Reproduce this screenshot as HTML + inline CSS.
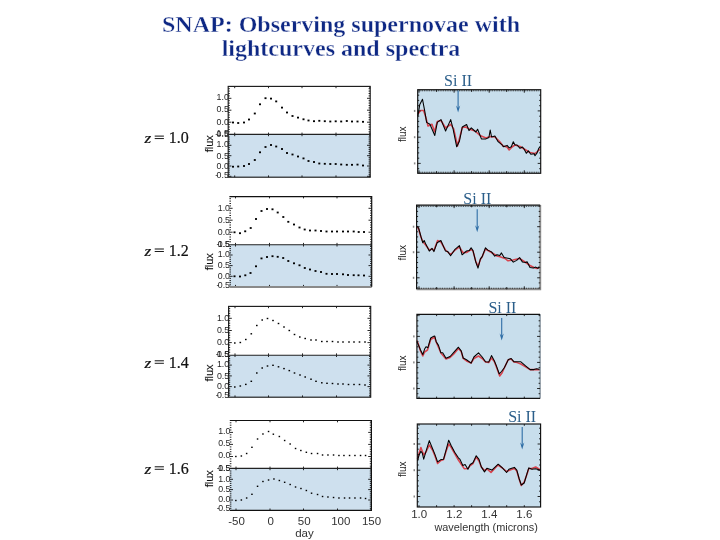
<!DOCTYPE html>
<html><head><meta charset="utf-8">
<style>
html,body{margin:0;padding:0;background:#fff;width:720px;height:540px;overflow:hidden}
#t{position:absolute;left:0;top:0;width:720px;text-align:center;font-family:"Liberation Serif",serif;font-weight:bold;color:#0e2884;font-size:24px;line-height:23.6px}
svg{position:absolute;left:0;top:0;will-change:transform}
#t{will-change:transform;-webkit-text-stroke:0.35px #fff}
svg line{stroke:#111;stroke-width:0.9}
.tl{font-family:"Liberation Sans",sans-serif;font-size:8.8px;fill:#262626;text-anchor:end}
.zl{font-family:"Liberation Serif",serif;font-size:16.5px;fill:#111;stroke:#111;stroke-width:0.2px}
.fl{font-family:"Liberation Sans",sans-serif;font-size:11px;fill:#111;stroke:#111;stroke-width:0.15px;text-anchor:middle}
.fr{font-family:"Liberation Sans",sans-serif;font-size:10px;fill:#222;text-anchor:middle}
.si{font-family:"Liberation Serif",serif;font-size:16px;fill:#2b5e8a}
.ax{font-family:"Liberation Sans",sans-serif;font-size:11.5px;fill:#333}
</style></head><body>
<div id="t" style="top:12.5px;left:-19.5px">SNAP: Observing supernovae with<br>lightcurves and spectra</div>
<svg width="720" height="540" viewBox="0 0 720 540">
<rect x="228.2" y="134.4" width="142.0" height="42.8" fill="#cee0ee"/>
<line x1="228.2" y1="131.8" x2="229.8" y2="131.8"/>
<line x1="370.2" y1="131.8" x2="368.6" y2="131.8"/>
<line x1="228.2" y1="129.4" x2="229.8" y2="129.4"/>
<line x1="370.2" y1="129.4" x2="368.6" y2="129.4"/>
<line x1="228.2" y1="127.0" x2="229.8" y2="127.0"/>
<line x1="370.2" y1="127.0" x2="368.6" y2="127.0"/>
<line x1="228.2" y1="124.6" x2="229.8" y2="124.6"/>
<line x1="370.2" y1="124.6" x2="368.6" y2="124.6"/>
<line x1="228.2" y1="122.2" x2="231.4" y2="122.2"/>
<line x1="370.2" y1="122.2" x2="367.0" y2="122.2"/>
<line x1="228.2" y1="119.8" x2="229.8" y2="119.8"/>
<line x1="370.2" y1="119.8" x2="368.6" y2="119.8"/>
<line x1="228.2" y1="117.4" x2="229.8" y2="117.4"/>
<line x1="370.2" y1="117.4" x2="368.6" y2="117.4"/>
<line x1="228.2" y1="115.0" x2="229.8" y2="115.0"/>
<line x1="370.2" y1="115.0" x2="368.6" y2="115.0"/>
<line x1="228.2" y1="112.6" x2="229.8" y2="112.6"/>
<line x1="370.2" y1="112.6" x2="368.6" y2="112.6"/>
<line x1="228.2" y1="110.2" x2="231.4" y2="110.2"/>
<line x1="370.2" y1="110.2" x2="367.0" y2="110.2"/>
<line x1="228.2" y1="107.9" x2="229.8" y2="107.9"/>
<line x1="370.2" y1="107.9" x2="368.6" y2="107.9"/>
<line x1="228.2" y1="105.5" x2="229.8" y2="105.5"/>
<line x1="370.2" y1="105.5" x2="368.6" y2="105.5"/>
<line x1="228.2" y1="103.1" x2="229.8" y2="103.1"/>
<line x1="370.2" y1="103.1" x2="368.6" y2="103.1"/>
<line x1="228.2" y1="100.7" x2="229.8" y2="100.7"/>
<line x1="370.2" y1="100.7" x2="368.6" y2="100.7"/>
<line x1="228.2" y1="98.3" x2="231.4" y2="98.3"/>
<line x1="370.2" y1="98.3" x2="367.0" y2="98.3"/>
<line x1="228.2" y1="95.9" x2="229.8" y2="95.9"/>
<line x1="370.2" y1="95.9" x2="368.6" y2="95.9"/>
<line x1="228.2" y1="93.5" x2="229.8" y2="93.5"/>
<line x1="370.2" y1="93.5" x2="368.6" y2="93.5"/>
<line x1="228.2" y1="91.1" x2="229.8" y2="91.1"/>
<line x1="370.2" y1="91.1" x2="368.6" y2="91.1"/>
<line x1="228.2" y1="88.7" x2="229.8" y2="88.7"/>
<line x1="370.2" y1="88.7" x2="368.6" y2="88.7"/>
<line x1="228.2" y1="176.3" x2="231.4" y2="176.3"/>
<line x1="370.2" y1="176.3" x2="367.0" y2="176.3"/>
<line x1="228.2" y1="174.3" x2="229.8" y2="174.3"/>
<line x1="370.2" y1="174.3" x2="368.6" y2="174.3"/>
<line x1="228.2" y1="172.2" x2="229.8" y2="172.2"/>
<line x1="370.2" y1="172.2" x2="368.6" y2="172.2"/>
<line x1="228.2" y1="170.1" x2="229.8" y2="170.1"/>
<line x1="370.2" y1="170.1" x2="368.6" y2="170.1"/>
<line x1="228.2" y1="168.1" x2="229.8" y2="168.1"/>
<line x1="370.2" y1="168.1" x2="368.6" y2="168.1"/>
<line x1="228.2" y1="166.0" x2="231.4" y2="166.0"/>
<line x1="370.2" y1="166.0" x2="367.0" y2="166.0"/>
<line x1="228.2" y1="163.9" x2="229.8" y2="163.9"/>
<line x1="370.2" y1="163.9" x2="368.6" y2="163.9"/>
<line x1="228.2" y1="161.9" x2="229.8" y2="161.9"/>
<line x1="370.2" y1="161.9" x2="368.6" y2="161.9"/>
<line x1="228.2" y1="159.8" x2="229.8" y2="159.8"/>
<line x1="370.2" y1="159.8" x2="368.6" y2="159.8"/>
<line x1="228.2" y1="157.7" x2="229.8" y2="157.7"/>
<line x1="370.2" y1="157.7" x2="368.6" y2="157.7"/>
<line x1="228.2" y1="155.7" x2="231.4" y2="155.7"/>
<line x1="370.2" y1="155.7" x2="367.0" y2="155.7"/>
<line x1="228.2" y1="153.6" x2="229.8" y2="153.6"/>
<line x1="370.2" y1="153.6" x2="368.6" y2="153.6"/>
<line x1="228.2" y1="151.5" x2="229.8" y2="151.5"/>
<line x1="370.2" y1="151.5" x2="368.6" y2="151.5"/>
<line x1="228.2" y1="149.4" x2="229.8" y2="149.4"/>
<line x1="370.2" y1="149.4" x2="368.6" y2="149.4"/>
<line x1="228.2" y1="147.4" x2="229.8" y2="147.4"/>
<line x1="370.2" y1="147.4" x2="368.6" y2="147.4"/>
<line x1="228.2" y1="145.3" x2="231.4" y2="145.3"/>
<line x1="370.2" y1="145.3" x2="367.0" y2="145.3"/>
<line x1="228.2" y1="143.2" x2="229.8" y2="143.2"/>
<line x1="370.2" y1="143.2" x2="368.6" y2="143.2"/>
<line x1="228.2" y1="141.2" x2="229.8" y2="141.2"/>
<line x1="370.2" y1="141.2" x2="368.6" y2="141.2"/>
<line x1="228.2" y1="139.1" x2="229.8" y2="139.1"/>
<line x1="370.2" y1="139.1" x2="368.6" y2="139.1"/>
<line x1="228.2" y1="137.0" x2="229.8" y2="137.0"/>
<line x1="370.2" y1="137.0" x2="368.6" y2="137.0"/>
<line x1="234.7" y1="86.4" x2="234.7" y2="88.2"/>
<line x1="234.7" y1="134.4" x2="234.7" y2="132.6"/>
<line x1="234.7" y1="134.4" x2="234.7" y2="136.2"/>
<line x1="234.7" y1="177.2" x2="234.7" y2="175.4"/>
<line x1="268.5" y1="86.4" x2="268.5" y2="88.2"/>
<line x1="268.5" y1="134.4" x2="268.5" y2="132.6"/>
<line x1="268.5" y1="134.4" x2="268.5" y2="136.2"/>
<line x1="268.5" y1="177.2" x2="268.5" y2="175.4"/>
<line x1="302.0" y1="86.4" x2="302.0" y2="88.2"/>
<line x1="302.0" y1="134.4" x2="302.0" y2="132.6"/>
<line x1="302.0" y1="134.4" x2="302.0" y2="136.2"/>
<line x1="302.0" y1="177.2" x2="302.0" y2="175.4"/>
<line x1="336.0" y1="86.4" x2="336.0" y2="88.2"/>
<line x1="336.0" y1="134.4" x2="336.0" y2="132.6"/>
<line x1="336.0" y1="134.4" x2="336.0" y2="136.2"/>
<line x1="336.0" y1="177.2" x2="336.0" y2="175.4"/>
<line x1="369.8" y1="86.4" x2="369.8" y2="88.2"/>
<line x1="369.8" y1="134.4" x2="369.8" y2="132.6"/>
<line x1="369.8" y1="134.4" x2="369.8" y2="136.2"/>
<line x1="369.8" y1="177.2" x2="369.8" y2="175.4"/>
<rect x="228.2" y="86.4" width="142.0" height="90.8" fill="none" stroke="#1a1a1a" stroke-width="1.15"/>
<path d="M228.2,134.4 H370.2" style="stroke:#222;stroke-width:1.1px"/>
<rect x="232.0" y="121.6" width="2.0" height="1.8" fill="#000" stroke="none"/>
<rect x="237.2" y="122.1" width="2.0" height="1.8" fill="#000" stroke="none"/>
<rect x="243.0" y="121.6" width="2.0" height="1.8" fill="#000" stroke="none"/>
<rect x="248.0" y="118.6" width="2.0" height="1.8" fill="#000" stroke="none"/>
<rect x="253.8" y="112.6" width="2.0" height="1.8" fill="#000" stroke="none"/>
<rect x="259.0" y="103.4" width="2.0" height="1.8" fill="#000" stroke="none"/>
<rect x="264.5" y="97.3" width="2.0" height="1.8" fill="#000" stroke="none"/>
<rect x="270.0" y="97.7" width="2.0" height="1.8" fill="#000" stroke="none"/>
<rect x="275.2" y="100.5" width="2.0" height="1.8" fill="#000" stroke="none"/>
<rect x="281.0" y="106.7" width="2.0" height="1.8" fill="#000" stroke="none"/>
<rect x="286.0" y="111.6" width="2.0" height="1.8" fill="#000" stroke="none"/>
<rect x="291.5" y="115.1" width="2.0" height="1.8" fill="#000" stroke="none"/>
<rect x="297.0" y="116.7" width="2.0" height="1.8" fill="#000" stroke="none"/>
<rect x="302.5" y="118.4" width="2.0" height="1.8" fill="#000" stroke="none"/>
<rect x="307.5" y="119.6" width="2.0" height="1.8" fill="#000" stroke="none"/>
<rect x="313.0" y="120.3" width="2.0" height="1.8" fill="#000" stroke="none"/>
<rect x="318.3" y="119.9" width="2.0" height="1.8" fill="#000" stroke="none"/>
<rect x="323.8" y="120.3" width="2.0" height="1.8" fill="#000" stroke="none"/>
<rect x="329.3" y="120.6" width="2.0" height="1.8" fill="#000" stroke="none"/>
<rect x="334.7" y="120.4" width="2.0" height="1.8" fill="#000" stroke="none"/>
<rect x="340.2" y="120.6" width="2.0" height="1.8" fill="#000" stroke="none"/>
<rect x="345.8" y="120.1" width="2.0" height="1.8" fill="#000" stroke="none"/>
<rect x="351.0" y="120.6" width="2.0" height="1.8" fill="#000" stroke="none"/>
<rect x="356.5" y="120.6" width="2.0" height="1.8" fill="#000" stroke="none"/>
<rect x="362.0" y="120.9" width="2.0" height="1.8" fill="#000" stroke="none"/>
<rect x="232.0" y="165.8" width="2.0" height="1.8" fill="#000" stroke="none"/>
<rect x="237.2" y="165.6" width="2.0" height="1.8" fill="#000" stroke="none"/>
<rect x="243.0" y="165.1" width="2.0" height="1.8" fill="#000" stroke="none"/>
<rect x="248.0" y="163.1" width="2.0" height="1.8" fill="#000" stroke="none"/>
<rect x="253.8" y="159.1" width="2.0" height="1.8" fill="#000" stroke="none"/>
<rect x="259.0" y="151.4" width="2.0" height="1.8" fill="#000" stroke="none"/>
<rect x="264.5" y="146.1" width="2.0" height="1.8" fill="#000" stroke="none"/>
<rect x="270.0" y="144.1" width="2.0" height="1.8" fill="#000" stroke="none"/>
<rect x="275.2" y="145.6" width="2.0" height="1.8" fill="#000" stroke="none"/>
<rect x="281.0" y="148.1" width="2.0" height="1.8" fill="#000" stroke="none"/>
<rect x="286.0" y="152.1" width="2.0" height="1.8" fill="#000" stroke="none"/>
<rect x="291.5" y="153.6" width="2.0" height="1.8" fill="#000" stroke="none"/>
<rect x="297.0" y="155.6" width="2.0" height="1.8" fill="#000" stroke="none"/>
<rect x="302.5" y="157.5" width="2.0" height="1.8" fill="#000" stroke="none"/>
<rect x="307.5" y="160.1" width="2.0" height="1.8" fill="#000" stroke="none"/>
<rect x="313.0" y="161.1" width="2.0" height="1.8" fill="#000" stroke="none"/>
<rect x="318.3" y="162.6" width="2.0" height="1.8" fill="#000" stroke="none"/>
<rect x="323.8" y="162.9" width="2.0" height="1.8" fill="#000" stroke="none"/>
<rect x="329.3" y="163.1" width="2.0" height="1.8" fill="#000" stroke="none"/>
<rect x="334.7" y="163.1" width="2.0" height="1.8" fill="#000" stroke="none"/>
<rect x="340.2" y="163.6" width="2.0" height="1.8" fill="#000" stroke="none"/>
<rect x="345.8" y="163.9" width="2.0" height="1.8" fill="#000" stroke="none"/>
<rect x="351.0" y="163.9" width="2.0" height="1.8" fill="#000" stroke="none"/>
<rect x="356.5" y="163.7" width="2.0" height="1.8" fill="#000" stroke="none"/>
<rect x="362.0" y="164.6" width="2.0" height="1.8" fill="#000" stroke="none"/>
<text class="tl" x="228.8" y="99.5">1.0</text>
<text class="tl" x="228.8" y="112.2">0.5</text>
<text class="tl" x="228.8" y="124.8">0.0</text>
<text class="tl" x="228.8" y="137.2">-<tspan dx="-1.6">0.5</tspan></text>
<text class="tl" x="228.8" y="136.4">1.5</text>
<text class="tl" x="228.8" y="147.2">1.0</text>
<text class="tl" x="228.8" y="158.6">0.5</text>
<text class="tl" x="228.8" y="168.9">0.0</text>
<text class="tl" x="228.8" y="177.8">-<tspan dx="-1.6">0.5</tspan></text>
<text class="zl" transform="translate(144.6,142.8) scale(1.15,0.93)" style="font-style:italic;font-size:15px;stroke-width:0.2px">z</text>
<rect x="154.7" y="135.6" width="9.2" height="1.0" fill="#111" stroke="none"/>
<rect x="154.7" y="138.1" width="9.2" height="0.95" fill="#111" stroke="none"/>
<text class="zl" x="168.7" y="142.8" style="font-size:16px">1.0</text>
<text class="fl" transform="translate(213.3,143.8) rotate(-90)">flux</text>
<rect x="229.4" y="244.7" width="142.3" height="42.0" fill="#cee0ee"/>
<line x1="229.4" y1="241.8" x2="231.0" y2="241.8"/>
<line x1="371.7" y1="241.8" x2="370.1" y2="241.8"/>
<line x1="229.4" y1="239.4" x2="231.0" y2="239.4"/>
<line x1="371.7" y1="239.4" x2="370.1" y2="239.4"/>
<line x1="229.4" y1="237.0" x2="231.0" y2="237.0"/>
<line x1="371.7" y1="237.0" x2="370.1" y2="237.0"/>
<line x1="229.4" y1="234.6" x2="231.0" y2="234.6"/>
<line x1="371.7" y1="234.6" x2="370.1" y2="234.6"/>
<line x1="229.4" y1="232.2" x2="232.6" y2="232.2"/>
<line x1="371.7" y1="232.2" x2="368.5" y2="232.2"/>
<line x1="229.4" y1="229.8" x2="231.0" y2="229.8"/>
<line x1="371.7" y1="229.8" x2="370.1" y2="229.8"/>
<line x1="229.4" y1="227.4" x2="231.0" y2="227.4"/>
<line x1="371.7" y1="227.4" x2="370.1" y2="227.4"/>
<line x1="229.4" y1="225.0" x2="231.0" y2="225.0"/>
<line x1="371.7" y1="225.0" x2="370.1" y2="225.0"/>
<line x1="229.4" y1="222.6" x2="231.0" y2="222.6"/>
<line x1="371.7" y1="222.6" x2="370.1" y2="222.6"/>
<line x1="229.4" y1="220.2" x2="232.6" y2="220.2"/>
<line x1="371.7" y1="220.2" x2="368.5" y2="220.2"/>
<line x1="229.4" y1="217.9" x2="231.0" y2="217.9"/>
<line x1="371.7" y1="217.9" x2="370.1" y2="217.9"/>
<line x1="229.4" y1="215.5" x2="231.0" y2="215.5"/>
<line x1="371.7" y1="215.5" x2="370.1" y2="215.5"/>
<line x1="229.4" y1="213.1" x2="231.0" y2="213.1"/>
<line x1="371.7" y1="213.1" x2="370.1" y2="213.1"/>
<line x1="229.4" y1="210.7" x2="231.0" y2="210.7"/>
<line x1="371.7" y1="210.7" x2="370.1" y2="210.7"/>
<line x1="229.4" y1="208.3" x2="232.6" y2="208.3"/>
<line x1="371.7" y1="208.3" x2="368.5" y2="208.3"/>
<line x1="229.4" y1="205.9" x2="231.0" y2="205.9"/>
<line x1="371.7" y1="205.9" x2="370.1" y2="205.9"/>
<line x1="229.4" y1="203.5" x2="231.0" y2="203.5"/>
<line x1="371.7" y1="203.5" x2="370.1" y2="203.5"/>
<line x1="229.4" y1="201.1" x2="231.0" y2="201.1"/>
<line x1="371.7" y1="201.1" x2="370.1" y2="201.1"/>
<line x1="229.4" y1="198.7" x2="231.0" y2="198.7"/>
<line x1="371.7" y1="198.7" x2="370.1" y2="198.7"/>
<line x1="229.4" y1="284.8" x2="231.0" y2="284.8"/>
<line x1="371.7" y1="284.8" x2="370.1" y2="284.8"/>
<line x1="229.4" y1="282.7" x2="231.0" y2="282.7"/>
<line x1="371.7" y1="282.7" x2="370.1" y2="282.7"/>
<line x1="229.4" y1="280.6" x2="231.0" y2="280.6"/>
<line x1="371.7" y1="280.6" x2="370.1" y2="280.6"/>
<line x1="229.4" y1="278.4" x2="231.0" y2="278.4"/>
<line x1="371.7" y1="278.4" x2="370.1" y2="278.4"/>
<line x1="229.4" y1="276.3" x2="232.6" y2="276.3"/>
<line x1="371.7" y1="276.3" x2="368.5" y2="276.3"/>
<line x1="229.4" y1="274.2" x2="231.0" y2="274.2"/>
<line x1="371.7" y1="274.2" x2="370.1" y2="274.2"/>
<line x1="229.4" y1="272.0" x2="231.0" y2="272.0"/>
<line x1="371.7" y1="272.0" x2="370.1" y2="272.0"/>
<line x1="229.4" y1="269.9" x2="231.0" y2="269.9"/>
<line x1="371.7" y1="269.9" x2="370.1" y2="269.9"/>
<line x1="229.4" y1="267.8" x2="231.0" y2="267.8"/>
<line x1="371.7" y1="267.8" x2="370.1" y2="267.8"/>
<line x1="229.4" y1="265.6" x2="232.6" y2="265.6"/>
<line x1="371.7" y1="265.6" x2="368.5" y2="265.6"/>
<line x1="229.4" y1="263.5" x2="231.0" y2="263.5"/>
<line x1="371.7" y1="263.5" x2="370.1" y2="263.5"/>
<line x1="229.4" y1="261.4" x2="231.0" y2="261.4"/>
<line x1="371.7" y1="261.4" x2="370.1" y2="261.4"/>
<line x1="229.4" y1="259.3" x2="231.0" y2="259.3"/>
<line x1="371.7" y1="259.3" x2="370.1" y2="259.3"/>
<line x1="229.4" y1="257.1" x2="231.0" y2="257.1"/>
<line x1="371.7" y1="257.1" x2="370.1" y2="257.1"/>
<line x1="229.4" y1="255.0" x2="232.6" y2="255.0"/>
<line x1="371.7" y1="255.0" x2="368.5" y2="255.0"/>
<line x1="229.4" y1="252.9" x2="231.0" y2="252.9"/>
<line x1="371.7" y1="252.9" x2="370.1" y2="252.9"/>
<line x1="229.4" y1="250.7" x2="231.0" y2="250.7"/>
<line x1="371.7" y1="250.7" x2="370.1" y2="250.7"/>
<line x1="229.4" y1="248.6" x2="231.0" y2="248.6"/>
<line x1="371.7" y1="248.6" x2="370.1" y2="248.6"/>
<line x1="229.4" y1="246.5" x2="231.0" y2="246.5"/>
<line x1="371.7" y1="246.5" x2="370.1" y2="246.5"/>
<line x1="235.5" y1="196.6" x2="235.5" y2="198.4"/>
<line x1="235.5" y1="244.7" x2="235.5" y2="242.9"/>
<line x1="235.5" y1="244.7" x2="235.5" y2="246.5"/>
<line x1="235.5" y1="286.7" x2="235.5" y2="284.9"/>
<line x1="269.5" y1="196.6" x2="269.5" y2="198.4"/>
<line x1="269.5" y1="244.7" x2="269.5" y2="242.9"/>
<line x1="269.5" y1="244.7" x2="269.5" y2="246.5"/>
<line x1="269.5" y1="286.7" x2="269.5" y2="284.9"/>
<line x1="303.5" y1="196.6" x2="303.5" y2="198.4"/>
<line x1="303.5" y1="244.7" x2="303.5" y2="242.9"/>
<line x1="303.5" y1="244.7" x2="303.5" y2="246.5"/>
<line x1="303.5" y1="286.7" x2="303.5" y2="284.9"/>
<line x1="337.0" y1="196.6" x2="337.0" y2="198.4"/>
<line x1="337.0" y1="244.7" x2="337.0" y2="242.9"/>
<line x1="337.0" y1="244.7" x2="337.0" y2="246.5"/>
<line x1="337.0" y1="286.7" x2="337.0" y2="284.9"/>
<line x1="371.0" y1="196.6" x2="371.0" y2="198.4"/>
<line x1="371.0" y1="244.7" x2="371.0" y2="242.9"/>
<line x1="371.0" y1="244.7" x2="371.0" y2="246.5"/>
<line x1="371.0" y1="286.7" x2="371.0" y2="284.9"/>
<path d="M229.4,287.0 H371.7" fill="none" stroke="#8a8a8a" stroke-width="1.8"/>
<path d="M229.4,196.6 H371.7 V286.7" fill="none" stroke="#111" stroke-width="1.2"/>
<path d="M229.4,244.7 H371.7" style="stroke:#222;stroke-width:1.1px"/>
<rect x="233.5" y="231.4" width="2.0" height="1.8" fill="#000" stroke="none"/>
<rect x="239.0" y="232.3" width="2.0" height="1.8" fill="#000" stroke="none"/>
<rect x="244.2" y="230.4" width="2.0" height="1.8" fill="#000" stroke="none"/>
<rect x="249.7" y="227.1" width="2.0" height="1.8" fill="#000" stroke="none"/>
<rect x="255.0" y="218.1" width="2.0" height="1.8" fill="#000" stroke="none"/>
<rect x="260.5" y="210.1" width="2.0" height="1.8" fill="#000" stroke="none"/>
<rect x="266.0" y="208.1" width="2.0" height="1.8" fill="#000" stroke="none"/>
<rect x="271.5" y="208.4" width="2.0" height="1.8" fill="#000" stroke="none"/>
<rect x="276.7" y="211.6" width="2.0" height="1.8" fill="#000" stroke="none"/>
<rect x="282.3" y="216.1" width="2.0" height="1.8" fill="#000" stroke="none"/>
<rect x="287.3" y="220.9" width="2.0" height="1.8" fill="#000" stroke="none"/>
<rect x="293.0" y="223.6" width="2.0" height="1.8" fill="#000" stroke="none"/>
<rect x="298.5" y="226.6" width="2.0" height="1.8" fill="#000" stroke="none"/>
<rect x="303.7" y="228.6" width="2.0" height="1.8" fill="#000" stroke="none"/>
<rect x="309.0" y="229.6" width="2.0" height="1.8" fill="#000" stroke="none"/>
<rect x="314.5" y="229.6" width="2.0" height="1.8" fill="#000" stroke="none"/>
<rect x="320.0" y="230.1" width="2.0" height="1.8" fill="#000" stroke="none"/>
<rect x="325.5" y="230.6" width="2.0" height="1.8" fill="#000" stroke="none"/>
<rect x="331.0" y="230.6" width="2.0" height="1.8" fill="#000" stroke="none"/>
<rect x="336.0" y="230.6" width="2.0" height="1.8" fill="#000" stroke="none"/>
<rect x="342.0" y="230.6" width="2.0" height="1.8" fill="#000" stroke="none"/>
<rect x="347.0" y="230.6" width="2.0" height="1.8" fill="#000" stroke="none"/>
<rect x="352.7" y="230.6" width="2.0" height="1.8" fill="#000" stroke="none"/>
<rect x="357.7" y="231.1" width="2.0" height="1.8" fill="#000" stroke="none"/>
<rect x="363.0" y="231.1" width="2.0" height="1.8" fill="#000" stroke="none"/>
<rect x="233.5" y="275.4" width="2.0" height="1.8" fill="#000" stroke="none"/>
<rect x="239.0" y="275.6" width="2.0" height="1.8" fill="#000" stroke="none"/>
<rect x="244.3" y="274.4" width="2.0" height="1.8" fill="#000" stroke="none"/>
<rect x="249.5" y="272.1" width="2.0" height="1.8" fill="#000" stroke="none"/>
<rect x="255.0" y="265.4" width="2.0" height="1.8" fill="#000" stroke="none"/>
<rect x="260.5" y="257.5" width="2.0" height="1.8" fill="#000" stroke="none"/>
<rect x="266.0" y="256.1" width="2.0" height="1.8" fill="#000" stroke="none"/>
<rect x="271.5" y="255.3" width="2.0" height="1.8" fill="#000" stroke="none"/>
<rect x="276.7" y="255.9" width="2.0" height="1.8" fill="#000" stroke="none"/>
<rect x="282.2" y="257.1" width="2.0" height="1.8" fill="#000" stroke="none"/>
<rect x="287.3" y="260.1" width="2.0" height="1.8" fill="#000" stroke="none"/>
<rect x="293.0" y="262.4" width="2.0" height="1.8" fill="#000" stroke="none"/>
<rect x="298.5" y="264.4" width="2.0" height="1.8" fill="#000" stroke="none"/>
<rect x="303.8" y="267.1" width="2.0" height="1.8" fill="#000" stroke="none"/>
<rect x="309.0" y="268.6" width="2.0" height="1.8" fill="#000" stroke="none"/>
<rect x="314.5" y="270.1" width="2.0" height="1.8" fill="#000" stroke="none"/>
<rect x="320.0" y="271.1" width="2.0" height="1.8" fill="#000" stroke="none"/>
<rect x="325.5" y="272.9" width="2.0" height="1.8" fill="#000" stroke="none"/>
<rect x="331.0" y="273.1" width="2.0" height="1.8" fill="#000" stroke="none"/>
<rect x="336.0" y="273.1" width="2.0" height="1.8" fill="#000" stroke="none"/>
<rect x="342.0" y="273.4" width="2.0" height="1.8" fill="#000" stroke="none"/>
<rect x="347.0" y="274.1" width="2.0" height="1.8" fill="#000" stroke="none"/>
<rect x="352.7" y="274.3" width="2.0" height="1.8" fill="#000" stroke="none"/>
<rect x="357.5" y="274.4" width="2.0" height="1.8" fill="#000" stroke="none"/>
<rect x="363.0" y="274.6" width="2.0" height="1.8" fill="#000" stroke="none"/>
<text class="tl" x="230.0" y="210.6">1.0</text>
<text class="tl" x="230.0" y="222.8">0.5</text>
<text class="tl" x="230.0" y="234.8">0.0</text>
<text class="tl" x="230.0" y="247.2">-<tspan dx="-1.6">0.5</tspan></text>
<text class="tl" x="230.0" y="246.8">1.5</text>
<text class="tl" x="230.0" y="257.2">1.0</text>
<text class="tl" x="230.0" y="268.1">0.5</text>
<text class="tl" x="230.0" y="278.6">0.0</text>
<text class="tl" x="230.0" y="287.8">-<tspan dx="-1.6">0.5</tspan></text>
<text class="zl" transform="translate(144.6,255.7) scale(1.15,0.93)" style="font-style:italic;font-size:15px;stroke-width:0.2px">z</text>
<rect x="154.7" y="248.5" width="9.2" height="1.0" fill="#111" stroke="none"/>
<rect x="154.7" y="251.0" width="9.2" height="0.95" fill="#111" stroke="none"/>
<text class="zl" x="168.7" y="255.7" style="font-size:16px">1.2</text>
<text class="fl" transform="translate(213.3,261.8) rotate(-90)">flux</text>
<rect x="228.6" y="355.2" width="142.1" height="42.0" fill="#cee0ee"/>
<line x1="228.6" y1="352.3" x2="230.2" y2="352.3"/>
<line x1="370.7" y1="352.3" x2="369.1" y2="352.3"/>
<line x1="228.6" y1="349.9" x2="230.2" y2="349.9"/>
<line x1="370.7" y1="349.9" x2="369.1" y2="349.9"/>
<line x1="228.6" y1="347.5" x2="230.2" y2="347.5"/>
<line x1="370.7" y1="347.5" x2="369.1" y2="347.5"/>
<line x1="228.6" y1="345.0" x2="230.2" y2="345.0"/>
<line x1="370.7" y1="345.0" x2="369.1" y2="345.0"/>
<line x1="228.6" y1="342.6" x2="231.8" y2="342.6"/>
<line x1="370.7" y1="342.6" x2="367.5" y2="342.6"/>
<line x1="228.6" y1="340.2" x2="230.2" y2="340.2"/>
<line x1="370.7" y1="340.2" x2="369.1" y2="340.2"/>
<line x1="228.6" y1="337.7" x2="230.2" y2="337.7"/>
<line x1="370.7" y1="337.7" x2="369.1" y2="337.7"/>
<line x1="228.6" y1="335.3" x2="230.2" y2="335.3"/>
<line x1="370.7" y1="335.3" x2="369.1" y2="335.3"/>
<line x1="228.6" y1="332.9" x2="230.2" y2="332.9"/>
<line x1="370.7" y1="332.9" x2="369.1" y2="332.9"/>
<line x1="228.6" y1="330.5" x2="231.8" y2="330.5"/>
<line x1="370.7" y1="330.5" x2="367.5" y2="330.5"/>
<line x1="228.6" y1="328.0" x2="230.2" y2="328.0"/>
<line x1="370.7" y1="328.0" x2="369.1" y2="328.0"/>
<line x1="228.6" y1="325.6" x2="230.2" y2="325.6"/>
<line x1="370.7" y1="325.6" x2="369.1" y2="325.6"/>
<line x1="228.6" y1="323.2" x2="230.2" y2="323.2"/>
<line x1="370.7" y1="323.2" x2="369.1" y2="323.2"/>
<line x1="228.6" y1="320.7" x2="230.2" y2="320.7"/>
<line x1="370.7" y1="320.7" x2="369.1" y2="320.7"/>
<line x1="228.6" y1="318.3" x2="231.8" y2="318.3"/>
<line x1="370.7" y1="318.3" x2="367.5" y2="318.3"/>
<line x1="228.6" y1="315.9" x2="230.2" y2="315.9"/>
<line x1="370.7" y1="315.9" x2="369.1" y2="315.9"/>
<line x1="228.6" y1="313.4" x2="230.2" y2="313.4"/>
<line x1="370.7" y1="313.4" x2="369.1" y2="313.4"/>
<line x1="228.6" y1="311.0" x2="230.2" y2="311.0"/>
<line x1="370.7" y1="311.0" x2="369.1" y2="311.0"/>
<line x1="228.6" y1="308.6" x2="230.2" y2="308.6"/>
<line x1="370.7" y1="308.6" x2="369.1" y2="308.6"/>
<line x1="228.6" y1="395.2" x2="230.2" y2="395.2"/>
<line x1="370.7" y1="395.2" x2="369.1" y2="395.2"/>
<line x1="228.6" y1="393.1" x2="230.2" y2="393.1"/>
<line x1="370.7" y1="393.1" x2="369.1" y2="393.1"/>
<line x1="228.6" y1="390.9" x2="230.2" y2="390.9"/>
<line x1="370.7" y1="390.9" x2="369.1" y2="390.9"/>
<line x1="228.6" y1="388.8" x2="230.2" y2="388.8"/>
<line x1="370.7" y1="388.8" x2="369.1" y2="388.8"/>
<line x1="228.6" y1="386.6" x2="231.8" y2="386.6"/>
<line x1="370.7" y1="386.6" x2="367.5" y2="386.6"/>
<line x1="228.6" y1="384.5" x2="230.2" y2="384.5"/>
<line x1="370.7" y1="384.5" x2="369.1" y2="384.5"/>
<line x1="228.6" y1="382.3" x2="230.2" y2="382.3"/>
<line x1="370.7" y1="382.3" x2="369.1" y2="382.3"/>
<line x1="228.6" y1="380.2" x2="230.2" y2="380.2"/>
<line x1="370.7" y1="380.2" x2="369.1" y2="380.2"/>
<line x1="228.6" y1="378.0" x2="230.2" y2="378.0"/>
<line x1="370.7" y1="378.0" x2="369.1" y2="378.0"/>
<line x1="228.6" y1="375.9" x2="231.8" y2="375.9"/>
<line x1="370.7" y1="375.9" x2="367.5" y2="375.9"/>
<line x1="228.6" y1="373.7" x2="230.2" y2="373.7"/>
<line x1="370.7" y1="373.7" x2="369.1" y2="373.7"/>
<line x1="228.6" y1="371.6" x2="230.2" y2="371.6"/>
<line x1="370.7" y1="371.6" x2="369.1" y2="371.6"/>
<line x1="228.6" y1="369.4" x2="230.2" y2="369.4"/>
<line x1="370.7" y1="369.4" x2="369.1" y2="369.4"/>
<line x1="228.6" y1="367.2" x2="230.2" y2="367.2"/>
<line x1="370.7" y1="367.2" x2="369.1" y2="367.2"/>
<line x1="228.6" y1="365.1" x2="231.8" y2="365.1"/>
<line x1="370.7" y1="365.1" x2="367.5" y2="365.1"/>
<line x1="228.6" y1="363.0" x2="230.2" y2="363.0"/>
<line x1="370.7" y1="363.0" x2="369.1" y2="363.0"/>
<line x1="228.6" y1="360.8" x2="230.2" y2="360.8"/>
<line x1="370.7" y1="360.8" x2="369.1" y2="360.8"/>
<line x1="228.6" y1="358.7" x2="230.2" y2="358.7"/>
<line x1="370.7" y1="358.7" x2="369.1" y2="358.7"/>
<line x1="228.6" y1="356.5" x2="230.2" y2="356.5"/>
<line x1="370.7" y1="356.5" x2="369.1" y2="356.5"/>
<line x1="235.0" y1="306.4" x2="235.0" y2="308.2"/>
<line x1="235.0" y1="355.2" x2="235.0" y2="353.4"/>
<line x1="235.0" y1="355.2" x2="235.0" y2="357.0"/>
<line x1="235.0" y1="397.2" x2="235.0" y2="395.4"/>
<line x1="268.5" y1="306.4" x2="268.5" y2="308.2"/>
<line x1="268.5" y1="355.2" x2="268.5" y2="353.4"/>
<line x1="268.5" y1="355.2" x2="268.5" y2="357.0"/>
<line x1="268.5" y1="397.2" x2="268.5" y2="395.4"/>
<line x1="302.5" y1="306.4" x2="302.5" y2="308.2"/>
<line x1="302.5" y1="355.2" x2="302.5" y2="353.4"/>
<line x1="302.5" y1="355.2" x2="302.5" y2="357.0"/>
<line x1="302.5" y1="397.2" x2="302.5" y2="395.4"/>
<line x1="336.5" y1="306.4" x2="336.5" y2="308.2"/>
<line x1="336.5" y1="355.2" x2="336.5" y2="353.4"/>
<line x1="336.5" y1="355.2" x2="336.5" y2="357.0"/>
<line x1="336.5" y1="397.2" x2="336.5" y2="395.4"/>
<line x1="370.0" y1="306.4" x2="370.0" y2="308.2"/>
<line x1="370.0" y1="355.2" x2="370.0" y2="353.4"/>
<line x1="370.0" y1="355.2" x2="370.0" y2="357.0"/>
<line x1="370.0" y1="397.2" x2="370.0" y2="395.4"/>
<rect x="228.6" y="306.4" width="142.1" height="90.8" fill="none" stroke="#1a1a1a" stroke-width="1.15"/>
<path d="M228.6,355.2 H370.7" style="stroke:#222;stroke-width:1.1px"/>
<rect x="234.0" y="342.3" width="1.6" height="1.4" fill="#000" stroke="none"/>
<rect x="239.5" y="341.8" width="1.6" height="1.4" fill="#000" stroke="none"/>
<rect x="245.0" y="338.8" width="1.6" height="1.4" fill="#000" stroke="none"/>
<rect x="250.5" y="333.1" width="1.6" height="1.4" fill="#000" stroke="none"/>
<rect x="256.0" y="324.8" width="1.6" height="1.4" fill="#000" stroke="none"/>
<rect x="261.4" y="319.3" width="1.6" height="1.4" fill="#000" stroke="none"/>
<rect x="266.7" y="317.8" width="1.6" height="1.4" fill="#000" stroke="none"/>
<rect x="272.2" y="319.8" width="1.6" height="1.4" fill="#000" stroke="none"/>
<rect x="277.7" y="322.8" width="1.6" height="1.4" fill="#000" stroke="none"/>
<rect x="283.2" y="326.3" width="1.6" height="1.4" fill="#000" stroke="none"/>
<rect x="288.5" y="329.8" width="1.6" height="1.4" fill="#000" stroke="none"/>
<rect x="293.7" y="333.8" width="1.6" height="1.4" fill="#000" stroke="none"/>
<rect x="299.0" y="336.3" width="1.6" height="1.4" fill="#000" stroke="none"/>
<rect x="304.4" y="337.8" width="1.6" height="1.4" fill="#000" stroke="none"/>
<rect x="310.2" y="339.3" width="1.6" height="1.4" fill="#000" stroke="none"/>
<rect x="315.2" y="339.3" width="1.6" height="1.4" fill="#000" stroke="none"/>
<rect x="321.0" y="340.8" width="1.6" height="1.4" fill="#000" stroke="none"/>
<rect x="326.2" y="340.8" width="1.6" height="1.4" fill="#000" stroke="none"/>
<rect x="331.7" y="340.8" width="1.6" height="1.4" fill="#000" stroke="none"/>
<rect x="337.2" y="341.3" width="1.6" height="1.4" fill="#000" stroke="none"/>
<rect x="342.2" y="341.3" width="1.6" height="1.4" fill="#000" stroke="none"/>
<rect x="348.2" y="341.3" width="1.6" height="1.4" fill="#000" stroke="none"/>
<rect x="353.2" y="341.3" width="1.6" height="1.4" fill="#000" stroke="none"/>
<rect x="358.7" y="341.3" width="1.6" height="1.4" fill="#000" stroke="none"/>
<rect x="364.2" y="341.3" width="1.6" height="1.4" fill="#000" stroke="none"/>
<rect x="234.0" y="386.3" width="1.6" height="1.4" fill="#000" stroke="none"/>
<rect x="239.5" y="385.3" width="1.6" height="1.4" fill="#000" stroke="none"/>
<rect x="245.0" y="383.7" width="1.6" height="1.4" fill="#000" stroke="none"/>
<rect x="250.5" y="380.6" width="1.6" height="1.4" fill="#000" stroke="none"/>
<rect x="256.0" y="372.3" width="1.6" height="1.4" fill="#000" stroke="none"/>
<rect x="261.4" y="367.3" width="1.6" height="1.4" fill="#000" stroke="none"/>
<rect x="266.7" y="365.3" width="1.6" height="1.4" fill="#000" stroke="none"/>
<rect x="272.2" y="364.6" width="1.6" height="1.4" fill="#000" stroke="none"/>
<rect x="277.7" y="366.1" width="1.6" height="1.4" fill="#000" stroke="none"/>
<rect x="283.2" y="367.9" width="1.6" height="1.4" fill="#000" stroke="none"/>
<rect x="288.5" y="369.9" width="1.6" height="1.4" fill="#000" stroke="none"/>
<rect x="293.7" y="372.3" width="1.6" height="1.4" fill="#000" stroke="none"/>
<rect x="299.2" y="374.3" width="1.6" height="1.4" fill="#000" stroke="none"/>
<rect x="304.4" y="376.3" width="1.6" height="1.4" fill="#000" stroke="none"/>
<rect x="310.2" y="378.5" width="1.6" height="1.4" fill="#000" stroke="none"/>
<rect x="315.2" y="380.6" width="1.6" height="1.4" fill="#000" stroke="none"/>
<rect x="321.0" y="382.1" width="1.6" height="1.4" fill="#000" stroke="none"/>
<rect x="326.2" y="382.6" width="1.6" height="1.4" fill="#000" stroke="none"/>
<rect x="331.7" y="382.8" width="1.6" height="1.4" fill="#000" stroke="none"/>
<rect x="337.2" y="383.3" width="1.6" height="1.4" fill="#000" stroke="none"/>
<rect x="342.2" y="383.3" width="1.6" height="1.4" fill="#000" stroke="none"/>
<rect x="347.7" y="383.8" width="1.6" height="1.4" fill="#000" stroke="none"/>
<rect x="353.2" y="383.8" width="1.6" height="1.4" fill="#000" stroke="none"/>
<rect x="358.7" y="383.8" width="1.6" height="1.4" fill="#000" stroke="none"/>
<rect x="364.2" y="384.3" width="1.6" height="1.4" fill="#000" stroke="none"/>
<text class="tl" x="229.2" y="320.6">1.0</text>
<text class="tl" x="229.2" y="332.8">0.5</text>
<text class="tl" x="229.2" y="345.0">0.0</text>
<text class="tl" x="229.2" y="357.2">-<tspan dx="-1.6">0.5</tspan></text>
<text class="tl" x="229.2" y="357.2">1.5</text>
<text class="tl" x="229.2" y="367.2">1.0</text>
<text class="tl" x="229.2" y="378.6">0.5</text>
<text class="tl" x="229.2" y="388.9">0.0</text>
<text class="tl" x="229.2" y="398.1">-<tspan dx="-1.6">0.5</tspan></text>
<text class="zl" transform="translate(144.6,367.5) scale(1.15,0.93)" style="font-style:italic;font-size:15px;stroke-width:0.2px">z</text>
<rect x="154.7" y="360.3" width="9.2" height="1.0" fill="#111" stroke="none"/>
<rect x="154.7" y="362.8" width="9.2" height="0.95" fill="#111" stroke="none"/>
<text class="zl" x="168.7" y="367.5" style="font-size:16px">1.4</text>
<text class="fl" transform="translate(213.3,373.0) rotate(-90)">flux</text>
<rect x="229.8" y="468.4" width="141.6" height="41.9" fill="#cee0ee"/>
<line x1="229.8" y1="466.1" x2="231.4" y2="466.1"/>
<line x1="371.4" y1="466.1" x2="369.8" y2="466.1"/>
<line x1="229.8" y1="463.7" x2="231.4" y2="463.7"/>
<line x1="371.4" y1="463.7" x2="369.8" y2="463.7"/>
<line x1="229.8" y1="461.3" x2="231.4" y2="461.3"/>
<line x1="371.4" y1="461.3" x2="369.8" y2="461.3"/>
<line x1="229.8" y1="458.9" x2="231.4" y2="458.9"/>
<line x1="371.4" y1="458.9" x2="369.8" y2="458.9"/>
<line x1="229.8" y1="456.5" x2="233.0" y2="456.5"/>
<line x1="371.4" y1="456.5" x2="368.2" y2="456.5"/>
<line x1="229.8" y1="454.1" x2="231.4" y2="454.1"/>
<line x1="371.4" y1="454.1" x2="369.8" y2="454.1"/>
<line x1="229.8" y1="451.7" x2="231.4" y2="451.7"/>
<line x1="371.4" y1="451.7" x2="369.8" y2="451.7"/>
<line x1="229.8" y1="449.3" x2="231.4" y2="449.3"/>
<line x1="371.4" y1="449.3" x2="369.8" y2="449.3"/>
<line x1="229.8" y1="446.9" x2="231.4" y2="446.9"/>
<line x1="371.4" y1="446.9" x2="369.8" y2="446.9"/>
<line x1="229.8" y1="444.4" x2="233.0" y2="444.4"/>
<line x1="371.4" y1="444.4" x2="368.2" y2="444.4"/>
<line x1="229.8" y1="442.0" x2="231.4" y2="442.0"/>
<line x1="371.4" y1="442.0" x2="369.8" y2="442.0"/>
<line x1="229.8" y1="439.6" x2="231.4" y2="439.6"/>
<line x1="371.4" y1="439.6" x2="369.8" y2="439.6"/>
<line x1="229.8" y1="437.2" x2="231.4" y2="437.2"/>
<line x1="371.4" y1="437.2" x2="369.8" y2="437.2"/>
<line x1="229.8" y1="434.8" x2="231.4" y2="434.8"/>
<line x1="371.4" y1="434.8" x2="369.8" y2="434.8"/>
<line x1="229.8" y1="432.4" x2="233.0" y2="432.4"/>
<line x1="371.4" y1="432.4" x2="368.2" y2="432.4"/>
<line x1="229.8" y1="430.0" x2="231.4" y2="430.0"/>
<line x1="371.4" y1="430.0" x2="369.8" y2="430.0"/>
<line x1="229.8" y1="427.6" x2="231.4" y2="427.6"/>
<line x1="371.4" y1="427.6" x2="369.8" y2="427.6"/>
<line x1="229.8" y1="425.2" x2="231.4" y2="425.2"/>
<line x1="371.4" y1="425.2" x2="369.8" y2="425.2"/>
<line x1="229.8" y1="422.8" x2="231.4" y2="422.8"/>
<line x1="371.4" y1="422.8" x2="369.8" y2="422.8"/>
<line x1="229.8" y1="508.3" x2="231.4" y2="508.3"/>
<line x1="371.4" y1="508.3" x2="369.8" y2="508.3"/>
<line x1="229.8" y1="506.2" x2="231.4" y2="506.2"/>
<line x1="371.4" y1="506.2" x2="369.8" y2="506.2"/>
<line x1="229.8" y1="504.1" x2="231.4" y2="504.1"/>
<line x1="371.4" y1="504.1" x2="369.8" y2="504.1"/>
<line x1="229.8" y1="502.1" x2="231.4" y2="502.1"/>
<line x1="371.4" y1="502.1" x2="369.8" y2="502.1"/>
<line x1="229.8" y1="500.0" x2="233.0" y2="500.0"/>
<line x1="371.4" y1="500.0" x2="368.2" y2="500.0"/>
<line x1="229.8" y1="497.9" x2="231.4" y2="497.9"/>
<line x1="371.4" y1="497.9" x2="369.8" y2="497.9"/>
<line x1="229.8" y1="495.9" x2="231.4" y2="495.9"/>
<line x1="371.4" y1="495.9" x2="369.8" y2="495.9"/>
<line x1="229.8" y1="493.8" x2="231.4" y2="493.8"/>
<line x1="371.4" y1="493.8" x2="369.8" y2="493.8"/>
<line x1="229.8" y1="491.7" x2="231.4" y2="491.7"/>
<line x1="371.4" y1="491.7" x2="369.8" y2="491.7"/>
<line x1="229.8" y1="489.6" x2="233.0" y2="489.6"/>
<line x1="371.4" y1="489.6" x2="368.2" y2="489.6"/>
<line x1="229.8" y1="487.6" x2="231.4" y2="487.6"/>
<line x1="371.4" y1="487.6" x2="369.8" y2="487.6"/>
<line x1="229.8" y1="485.5" x2="231.4" y2="485.5"/>
<line x1="371.4" y1="485.5" x2="369.8" y2="485.5"/>
<line x1="229.8" y1="483.4" x2="231.4" y2="483.4"/>
<line x1="371.4" y1="483.4" x2="369.8" y2="483.4"/>
<line x1="229.8" y1="481.4" x2="231.4" y2="481.4"/>
<line x1="371.4" y1="481.4" x2="369.8" y2="481.4"/>
<line x1="229.8" y1="479.3" x2="233.0" y2="479.3"/>
<line x1="371.4" y1="479.3" x2="368.2" y2="479.3"/>
<line x1="229.8" y1="477.2" x2="231.4" y2="477.2"/>
<line x1="371.4" y1="477.2" x2="369.8" y2="477.2"/>
<line x1="229.8" y1="475.2" x2="231.4" y2="475.2"/>
<line x1="371.4" y1="475.2" x2="369.8" y2="475.2"/>
<line x1="229.8" y1="473.1" x2="231.4" y2="473.1"/>
<line x1="371.4" y1="473.1" x2="369.8" y2="473.1"/>
<line x1="229.8" y1="471.0" x2="231.4" y2="471.0"/>
<line x1="371.4" y1="471.0" x2="369.8" y2="471.0"/>
<line x1="236.0" y1="420.5" x2="236.0" y2="422.3"/>
<line x1="236.0" y1="468.4" x2="236.0" y2="466.6"/>
<line x1="236.0" y1="468.4" x2="236.0" y2="470.2"/>
<line x1="236.0" y1="510.3" x2="236.0" y2="508.5"/>
<line x1="270.0" y1="420.5" x2="270.0" y2="422.3"/>
<line x1="270.0" y1="468.4" x2="270.0" y2="466.6"/>
<line x1="270.0" y1="468.4" x2="270.0" y2="470.2"/>
<line x1="270.0" y1="510.3" x2="270.0" y2="508.5"/>
<line x1="303.5" y1="420.5" x2="303.5" y2="422.3"/>
<line x1="303.5" y1="468.4" x2="303.5" y2="466.6"/>
<line x1="303.5" y1="468.4" x2="303.5" y2="470.2"/>
<line x1="303.5" y1="510.3" x2="303.5" y2="508.5"/>
<line x1="337.5" y1="420.5" x2="337.5" y2="422.3"/>
<line x1="337.5" y1="468.4" x2="337.5" y2="466.6"/>
<line x1="337.5" y1="468.4" x2="337.5" y2="470.2"/>
<line x1="337.5" y1="510.3" x2="337.5" y2="508.5"/>
<line x1="371.0" y1="420.5" x2="371.0" y2="422.3"/>
<line x1="371.0" y1="468.4" x2="371.0" y2="466.6"/>
<line x1="371.0" y1="468.4" x2="371.0" y2="470.2"/>
<line x1="371.0" y1="510.3" x2="371.0" y2="508.5"/>
<path d="M229.8,420.5 H371.4 V510.3 H229.8" fill="none" stroke="#111" stroke-width="1.2"/>
<path d="M229.8,468.4 H371.4" style="stroke:#222;stroke-width:1.1px"/>
<rect x="235.1" y="455.8" width="1.5" height="1.4" fill="#000" stroke="none"/>
<rect x="240.6" y="455.3" width="1.5" height="1.4" fill="#000" stroke="none"/>
<rect x="245.9" y="452.8" width="1.5" height="1.4" fill="#000" stroke="none"/>
<rect x="251.2" y="446.6" width="1.5" height="1.4" fill="#000" stroke="none"/>
<rect x="256.8" y="438.3" width="1.5" height="1.4" fill="#000" stroke="none"/>
<rect x="262.2" y="433.3" width="1.5" height="1.4" fill="#000" stroke="none"/>
<rect x="267.8" y="430.8" width="1.5" height="1.4" fill="#000" stroke="none"/>
<rect x="272.6" y="433.5" width="1.5" height="1.4" fill="#000" stroke="none"/>
<rect x="278.6" y="435.8" width="1.5" height="1.4" fill="#000" stroke="none"/>
<rect x="283.9" y="439.8" width="1.5" height="1.4" fill="#000" stroke="none"/>
<rect x="289.4" y="443.3" width="1.5" height="1.4" fill="#000" stroke="none"/>
<rect x="294.8" y="447.8" width="1.5" height="1.4" fill="#000" stroke="none"/>
<rect x="300.1" y="449.8" width="1.5" height="1.4" fill="#000" stroke="none"/>
<rect x="305.6" y="451.6" width="1.5" height="1.4" fill="#000" stroke="none"/>
<rect x="310.8" y="452.8" width="1.5" height="1.4" fill="#000" stroke="none"/>
<rect x="316.8" y="452.8" width="1.5" height="1.4" fill="#000" stroke="none"/>
<rect x="321.8" y="454.3" width="1.5" height="1.4" fill="#000" stroke="none"/>
<rect x="327.2" y="454.3" width="1.5" height="1.4" fill="#000" stroke="none"/>
<rect x="332.8" y="454.3" width="1.5" height="1.4" fill="#000" stroke="none"/>
<rect x="338.2" y="454.8" width="1.5" height="1.4" fill="#000" stroke="none"/>
<rect x="343.2" y="454.8" width="1.5" height="1.4" fill="#000" stroke="none"/>
<rect x="348.8" y="454.8" width="1.5" height="1.4" fill="#000" stroke="none"/>
<rect x="354.2" y="454.8" width="1.5" height="1.4" fill="#000" stroke="none"/>
<rect x="359.8" y="454.8" width="1.5" height="1.4" fill="#000" stroke="none"/>
<rect x="364.8" y="454.8" width="1.5" height="1.4" fill="#000" stroke="none"/>
<rect x="235.1" y="499.8" width="1.5" height="1.4" fill="#000" stroke="none"/>
<rect x="240.6" y="499.3" width="1.5" height="1.4" fill="#000" stroke="none"/>
<rect x="245.9" y="497.3" width="1.5" height="1.4" fill="#000" stroke="none"/>
<rect x="251.2" y="493.6" width="1.5" height="1.4" fill="#000" stroke="none"/>
<rect x="256.8" y="485.6" width="1.5" height="1.4" fill="#000" stroke="none"/>
<rect x="262.2" y="480.8" width="1.5" height="1.4" fill="#000" stroke="none"/>
<rect x="267.8" y="479.3" width="1.5" height="1.4" fill="#000" stroke="none"/>
<rect x="273.2" y="478.3" width="1.5" height="1.4" fill="#000" stroke="none"/>
<rect x="278.6" y="479.8" width="1.5" height="1.4" fill="#000" stroke="none"/>
<rect x="283.9" y="481.6" width="1.5" height="1.4" fill="#000" stroke="none"/>
<rect x="289.4" y="483.8" width="1.5" height="1.4" fill="#000" stroke="none"/>
<rect x="294.8" y="486.3" width="1.5" height="1.4" fill="#000" stroke="none"/>
<rect x="300.2" y="487.8" width="1.5" height="1.4" fill="#000" stroke="none"/>
<rect x="305.6" y="489.8" width="1.5" height="1.4" fill="#000" stroke="none"/>
<rect x="310.8" y="492.5" width="1.5" height="1.4" fill="#000" stroke="none"/>
<rect x="316.8" y="493.8" width="1.5" height="1.4" fill="#000" stroke="none"/>
<rect x="321.8" y="495.8" width="1.5" height="1.4" fill="#000" stroke="none"/>
<rect x="327.2" y="496.3" width="1.5" height="1.4" fill="#000" stroke="none"/>
<rect x="332.8" y="496.8" width="1.5" height="1.4" fill="#000" stroke="none"/>
<rect x="338.2" y="497.3" width="1.5" height="1.4" fill="#000" stroke="none"/>
<rect x="343.8" y="497.3" width="1.5" height="1.4" fill="#000" stroke="none"/>
<rect x="348.8" y="497.3" width="1.5" height="1.4" fill="#000" stroke="none"/>
<rect x="354.2" y="497.3" width="1.5" height="1.4" fill="#000" stroke="none"/>
<rect x="359.8" y="497.3" width="1.5" height="1.4" fill="#000" stroke="none"/>
<rect x="364.8" y="497.8" width="1.5" height="1.4" fill="#000" stroke="none"/>
<text class="tl" x="230.4" y="433.9">1.0</text>
<text class="tl" x="230.4" y="446.1">0.5</text>
<text class="tl" x="230.4" y="458.4">0.0</text>
<text class="tl" x="230.4" y="470.6">-<tspan dx="-1.6">0.5</tspan></text>
<text class="tl" x="230.4" y="470.8">1.5</text>
<text class="tl" x="230.4" y="481.7">1.0</text>
<text class="tl" x="230.4" y="491.9">0.5</text>
<text class="tl" x="230.4" y="502.2">0.0</text>
<text class="tl" x="230.4" y="511.1">-<tspan dx="-1.6">0.5</tspan></text>
<text class="zl" transform="translate(144.6,473.5) scale(1.15,0.93)" style="font-style:italic;font-size:15px;stroke-width:0.2px">z</text>
<rect x="154.7" y="466.3" width="9.2" height="1.0" fill="#111" stroke="none"/>
<rect x="154.7" y="468.8" width="9.2" height="0.95" fill="#111" stroke="none"/>
<text class="zl" x="168.7" y="473.5" style="font-size:16px">1.6</text>
<text class="fl" transform="translate(213.3,478.7) rotate(-90)">flux</text>
<rect x="417.7" y="89.7" width="123.0" height="83.6" fill="#c8deec"/>
<path d="M418.0,114.0 L420.6,110.4 L423.6,110.4 L425.7,116.9 L428.0,126.0 L432.0,124.3 L434.5,131.7 L437.3,121.5 L441.0,120.5 L445.6,128.0 L450.7,124.3 L453.7,128.9 L457.5,146.0 L462.3,127.5 L466.0,127.0 L469.0,129.0 L475.0,131.0 L480.0,135.5 L486.0,138.0 L490.0,136.5 L495.0,137.0 L500.0,142.0 L503.0,146.0 L507.0,147.0 L509.2,150.0 L512.0,147.0 L515.0,145.0 L520.0,146.5 L525.0,149.5 L530.0,152.5 L535.0,153.5 L538.0,151.0 L540.5,149.0" fill="none" stroke="#d8434e" stroke-width="1.55" stroke-linejoin="round"/>
<path d="M417.9,115.9 L419.7,104.8 L422.5,99.3 L424.8,111.3 L426.6,122.4 L429.9,124.3 L434.8,135.5 L437.3,122.4 L441.0,119.6 L445.6,131.0 L450.7,119.6 L453.0,128.7 L456.7,146.8 L459.5,141.0 L462.3,127.0 L466.6,124.5 L469.0,130.6 L471.3,127.8 L475.9,132.0 L477.6,129.2 L479.6,134.3 L481.4,138.9 L486.0,138.9 L488.9,137.5 L490.2,130.1 L491.6,137.0 L494.9,136.1 L498.1,141.7 L502.7,145.4 L503.3,146.7 L507.1,145.4 L509.2,147.9 L511.3,146.7 L513.3,141.7 L515.0,145.0 L517.1,145.0 L520.0,148.3 L522.5,147.0 L524.2,149.2 L526.3,153.3 L528.3,150.8 L530.8,154.2 L534.2,153.8 L535.0,155.8 L537.1,152.9 L538.8,148.3 L540.5,146.0" fill="none" stroke="#000" stroke-width="1.05" stroke-linejoin="round"/>
<rect x="417.7" y="89.7" width="123.0" height="83.6" fill="none" stroke="#111" stroke-width="1.15"/>
<line x1="417.7" y1="95.2" x2="419.2" y2="95.2"/>
<line x1="540.7" y1="95.2" x2="539.2" y2="95.2"/>
<line x1="417.7" y1="100.4" x2="419.2" y2="100.4"/>
<line x1="540.7" y1="100.4" x2="539.2" y2="100.4"/>
<line x1="417.7" y1="105.7" x2="419.2" y2="105.7"/>
<line x1="540.7" y1="105.7" x2="539.2" y2="105.7"/>
<line x1="417.7" y1="110.9" x2="420.7" y2="110.9"/>
<line x1="540.7" y1="110.9" x2="537.7" y2="110.9"/>
<rect x="413.9" y="109.9" width="1.5" height="2" fill="#8a8a8a" stroke="none"/>
<line x1="417.7" y1="116.2" x2="419.2" y2="116.2"/>
<line x1="540.7" y1="116.2" x2="539.2" y2="116.2"/>
<line x1="417.7" y1="121.4" x2="419.2" y2="121.4"/>
<line x1="540.7" y1="121.4" x2="539.2" y2="121.4"/>
<line x1="417.7" y1="126.7" x2="419.2" y2="126.7"/>
<line x1="540.7" y1="126.7" x2="539.2" y2="126.7"/>
<line x1="417.7" y1="131.9" x2="419.2" y2="131.9"/>
<line x1="540.7" y1="131.9" x2="539.2" y2="131.9"/>
<line x1="417.7" y1="137.2" x2="420.7" y2="137.2"/>
<line x1="540.7" y1="137.2" x2="537.7" y2="137.2"/>
<rect x="413.9" y="136.2" width="1.5" height="2" fill="#8a8a8a" stroke="none"/>
<line x1="417.7" y1="142.4" x2="419.2" y2="142.4"/>
<line x1="540.7" y1="142.4" x2="539.2" y2="142.4"/>
<line x1="417.7" y1="147.7" x2="419.2" y2="147.7"/>
<line x1="540.7" y1="147.7" x2="539.2" y2="147.7"/>
<line x1="417.7" y1="152.9" x2="419.2" y2="152.9"/>
<line x1="540.7" y1="152.9" x2="539.2" y2="152.9"/>
<line x1="417.7" y1="158.2" x2="419.2" y2="158.2"/>
<line x1="540.7" y1="158.2" x2="539.2" y2="158.2"/>
<line x1="417.7" y1="163.4" x2="420.7" y2="163.4"/>
<line x1="540.7" y1="163.4" x2="537.7" y2="163.4"/>
<rect x="413.9" y="162.4" width="1.5" height="2" fill="#8a8a8a" stroke="none"/>
<line x1="417.7" y1="168.7" x2="419.2" y2="168.7"/>
<line x1="540.7" y1="168.7" x2="539.2" y2="168.7"/>
<path d="M418.7,172.2 H539.7 M418.7,90.8 H539.7" style="stroke:#222;stroke-width:1.1px;stroke-dasharray:0.9 0.85;fill:none"/>
<line x1="419.0" y1="173.3" x2="419.0" y2="170.3"/>
<line x1="419.0" y1="89.7" x2="419.0" y2="92.7"/>
<line x1="436.6" y1="173.3" x2="436.6" y2="171.1"/>
<line x1="436.6" y1="89.7" x2="436.6" y2="91.9"/>
<line x1="454.1" y1="173.3" x2="454.1" y2="170.3"/>
<line x1="454.1" y1="89.7" x2="454.1" y2="92.7"/>
<line x1="471.6" y1="173.3" x2="471.6" y2="171.1"/>
<line x1="471.6" y1="89.7" x2="471.6" y2="91.9"/>
<line x1="489.2" y1="173.3" x2="489.2" y2="170.3"/>
<line x1="489.2" y1="89.7" x2="489.2" y2="92.7"/>
<line x1="506.7" y1="173.3" x2="506.7" y2="171.1"/>
<line x1="506.7" y1="89.7" x2="506.7" y2="91.9"/>
<line x1="524.3" y1="173.3" x2="524.3" y2="170.3"/>
<line x1="524.3" y1="89.7" x2="524.3" y2="92.7"/>
<path d="M458.1,90.5 L458.1,109.6" style="stroke:#2f6ea6;stroke-width:1.1px;fill:none"/>
<path d="M456.0,105.6 L458.1,112.6 L460.2,105.6 L458.1,108.1 Z" style="fill:#2f6ea6;stroke:none"/>
<text class="si" x="444.1" y="85.6">Si II</text>
<text class="fr" transform="translate(406.4,134.3) rotate(-90)">flux</text>
<rect x="416.6" y="205.1" width="123.6" height="84.2" fill="#c8deec"/>
<path d="M417.0,226.5 L418.6,229.0 L420.9,237.0 L422.8,241.5 L426.0,245.5 L429.3,250.0 L432.0,249.0 L433.9,250.5 L437.6,240.5 L440.9,242.0 L445.5,250.0 L450.6,254.5 L454.7,250.5 L459.4,247.0 L462.8,252.5 L466.5,252.5 L471.1,249.5 L473.0,251.0 L475.7,261.0 L478.0,266.5 L480.4,259.5 L482.2,256.6 L485.5,249.0 L491.5,252.5 L497.0,256.0 L500.0,256.7 L505.0,258.5 L508.0,260.8 L513.0,260.0 L519.5,258.5 L525.0,262.0 L530.0,265.5 L534.0,267.5 L537.0,268.5 L540.0,267.0" fill="none" stroke="#d8434e" stroke-width="1.55" stroke-linejoin="round"/>
<path d="M417.0,226.1 L418.6,228.0 L420.9,236.3 L422.8,242.8 L424.2,240.5 L426.0,244.6 L429.3,251.1 L432.0,248.3 L433.9,251.6 L437.1,242.8 L440.9,240.5 L445.5,251.1 L447.8,251.6 L450.6,255.7 L454.7,249.7 L459.4,245.6 L462.1,254.8 L466.5,251.0 L469.3,250.6 L471.1,247.8 L473.0,250.6 L475.7,261.7 L478.0,268.1 L480.4,258.9 L482.2,256.6 L485.5,247.8 L487.8,250.1 L491.5,251.9 L494.7,256.1 L497.0,254.7 L499.8,255.6 L501.3,252.9 L504.2,257.5 L507.9,258.3 L510.4,258.8 L513.3,262.1 L516.7,260.4 L519.6,257.5 L522.5,262.1 L525.8,262.5 L527.1,261.7 L530.0,267.5 L533.3,267.9 L535.8,267.1 L537.9,268.3 L540.0,265.8" fill="none" stroke="#000" stroke-width="1.05" stroke-linejoin="round"/>
<path d="M416.6,289.3 H540.2 V205.1" fill="none" stroke="#8c8c8c" stroke-width="2"/>
<path d="M416.6,289.3 V205.1 H540.2" fill="none" stroke="#111" stroke-width="1.15"/>
<line x1="416.6" y1="206.3" x2="418.1" y2="206.3"/>
<line x1="540.2" y1="206.3" x2="538.7" y2="206.3"/>
<line x1="416.6" y1="211.4" x2="418.1" y2="211.4"/>
<line x1="540.2" y1="211.4" x2="538.7" y2="211.4"/>
<line x1="416.6" y1="216.5" x2="418.1" y2="216.5"/>
<line x1="540.2" y1="216.5" x2="538.7" y2="216.5"/>
<line x1="416.6" y1="221.6" x2="418.1" y2="221.6"/>
<line x1="540.2" y1="221.6" x2="538.7" y2="221.6"/>
<line x1="416.6" y1="226.7" x2="419.6" y2="226.7"/>
<line x1="540.2" y1="226.7" x2="537.2" y2="226.7"/>
<rect x="412.8" y="225.7" width="1.5" height="2" fill="#8a8a8a" stroke="none"/>
<line x1="416.6" y1="231.8" x2="418.1" y2="231.8"/>
<line x1="540.2" y1="231.8" x2="538.7" y2="231.8"/>
<line x1="416.6" y1="236.9" x2="418.1" y2="236.9"/>
<line x1="540.2" y1="236.9" x2="538.7" y2="236.9"/>
<line x1="416.6" y1="242.0" x2="418.1" y2="242.0"/>
<line x1="540.2" y1="242.0" x2="538.7" y2="242.0"/>
<line x1="416.6" y1="247.1" x2="418.1" y2="247.1"/>
<line x1="540.2" y1="247.1" x2="538.7" y2="247.1"/>
<line x1="416.6" y1="252.2" x2="419.6" y2="252.2"/>
<line x1="540.2" y1="252.2" x2="537.2" y2="252.2"/>
<rect x="412.8" y="251.2" width="1.5" height="2" fill="#8a8a8a" stroke="none"/>
<line x1="416.6" y1="257.4" x2="418.1" y2="257.4"/>
<line x1="540.2" y1="257.4" x2="538.7" y2="257.4"/>
<line x1="416.6" y1="262.5" x2="418.1" y2="262.5"/>
<line x1="540.2" y1="262.5" x2="538.7" y2="262.5"/>
<line x1="416.6" y1="267.6" x2="418.1" y2="267.6"/>
<line x1="540.2" y1="267.6" x2="538.7" y2="267.6"/>
<line x1="416.6" y1="272.7" x2="418.1" y2="272.7"/>
<line x1="540.2" y1="272.7" x2="538.7" y2="272.7"/>
<line x1="416.6" y1="277.8" x2="419.6" y2="277.8"/>
<line x1="540.2" y1="277.8" x2="537.2" y2="277.8"/>
<rect x="412.8" y="276.8" width="1.5" height="2" fill="#8a8a8a" stroke="none"/>
<line x1="416.6" y1="282.9" x2="418.1" y2="282.9"/>
<line x1="540.2" y1="282.9" x2="538.7" y2="282.9"/>
<line x1="416.6" y1="288.0" x2="418.1" y2="288.0"/>
<line x1="540.2" y1="288.0" x2="538.7" y2="288.0"/>
<path d="M417.6,288.2 H539.2 M417.6,206.2 H539.2" style="stroke:#222;stroke-width:1.1px;stroke-dasharray:0.9 0.85;fill:none"/>
<line x1="419.0" y1="289.3" x2="419.0" y2="286.3"/>
<line x1="419.0" y1="205.1" x2="419.0" y2="208.1"/>
<line x1="436.6" y1="289.3" x2="436.6" y2="287.1"/>
<line x1="436.6" y1="205.1" x2="436.6" y2="207.3"/>
<line x1="454.1" y1="289.3" x2="454.1" y2="286.3"/>
<line x1="454.1" y1="205.1" x2="454.1" y2="208.1"/>
<line x1="471.6" y1="289.3" x2="471.6" y2="287.1"/>
<line x1="471.6" y1="205.1" x2="471.6" y2="207.3"/>
<line x1="489.2" y1="289.3" x2="489.2" y2="286.3"/>
<line x1="489.2" y1="205.1" x2="489.2" y2="208.1"/>
<line x1="506.7" y1="289.3" x2="506.7" y2="287.1"/>
<line x1="506.7" y1="205.1" x2="506.7" y2="207.3"/>
<line x1="524.3" y1="289.3" x2="524.3" y2="286.3"/>
<line x1="524.3" y1="205.1" x2="524.3" y2="208.1"/>
<path d="M477.2,209.3 L477.2,229.2" style="stroke:#2f6ea6;stroke-width:1.1px;fill:none"/>
<path d="M475.1,225.2 L477.2,232.2 L479.3,225.2 L477.2,227.7 Z" style="fill:#2f6ea6;stroke:none"/>
<text class="si" x="463.3" y="204.3">Si II</text>
<text class="fr" transform="translate(406.4,252.7) rotate(-90)">flux</text>
<rect x="416.9" y="314.3" width="123.2" height="84.1" fill="#c8deec"/>
<path d="M417.0,340.5 L418.6,345.0 L420.5,351.0 L422.8,356.0 L424.6,352.0 L427.5,350.0 L430.7,339.5 L434.5,337.0 L436.2,342.0 L440.9,353.0 L446.0,359.0 L450.1,357.5 L453.8,354.0 L458.4,348.5 L461.2,351.5 L463.2,358.5 L466.5,361.0 L471.1,363.0 L473.9,358.5 L478.5,356.0 L482.2,358.5 L485.5,362.0 L488.7,362.5 L491.5,358.0 L494.3,361.5 L496.4,367.0 L499.7,376.0 L502.0,373.0 L508.0,360.0 L511.0,359.0 L514.0,362.0 L517.2,362.6 L520.9,364.0 L525.6,366.8 L530.0,369.6 L534.0,369.6 L540.0,369.8" fill="none" stroke="#d8434e" stroke-width="1.55" stroke-linejoin="round"/>
<path d="M417.0,341.7 L418.6,345.4 L420.5,350.0 L422.8,354.6 L424.6,349.1 L426.0,346.8 L427.9,347.7 L430.7,338.0 L433.0,336.6 L434.8,336.1 L436.2,341.7 L438.5,345.4 L440.9,352.8 L442.7,352.8 L446.0,358.3 L450.1,356.5 L453.8,352.3 L458.4,347.2 L461.2,350.9 L463.2,358.0 L466.5,359.8 L471.1,363.1 L473.9,357.0 L478.5,352.9 L482.2,357.0 L485.5,361.7 L488.7,362.1 L491.5,355.6 L494.3,360.7 L496.4,365.9 L499.2,373.8 L501.5,371.5 L504.3,367.8 L508.4,359.4 L511.2,358.5 L514.0,361.8 L517.2,361.8 L520.9,361.8 L525.6,365.9 L530.2,369.6 L533.9,369.6 L536.7,368.7 L540.0,369.6" fill="none" stroke="#000" stroke-width="1.05" stroke-linejoin="round"/>
<path d="M540.1,314.3 V398.4" fill="none" stroke="#7d8a94" stroke-width="1.3"/>
<path d="M540.1,398.4 H416.9 V314.3 H540.1" fill="none" stroke="#111" stroke-width="1.15"/>
<line x1="416.9" y1="315.6" x2="418.4" y2="315.6"/>
<line x1="540.1" y1="315.6" x2="538.6" y2="315.6"/>
<line x1="416.9" y1="320.8" x2="418.4" y2="320.8"/>
<line x1="540.1" y1="320.8" x2="538.6" y2="320.8"/>
<line x1="416.9" y1="326.0" x2="418.4" y2="326.0"/>
<line x1="540.1" y1="326.0" x2="538.6" y2="326.0"/>
<line x1="416.9" y1="331.2" x2="418.4" y2="331.2"/>
<line x1="540.1" y1="331.2" x2="538.6" y2="331.2"/>
<line x1="416.9" y1="336.4" x2="419.9" y2="336.4"/>
<line x1="540.1" y1="336.4" x2="537.1" y2="336.4"/>
<rect x="413.1" y="335.4" width="1.5" height="2" fill="#8a8a8a" stroke="none"/>
<line x1="416.9" y1="341.6" x2="418.4" y2="341.6"/>
<line x1="540.1" y1="341.6" x2="538.6" y2="341.6"/>
<line x1="416.9" y1="346.8" x2="418.4" y2="346.8"/>
<line x1="540.1" y1="346.8" x2="538.6" y2="346.8"/>
<line x1="416.9" y1="352.0" x2="418.4" y2="352.0"/>
<line x1="540.1" y1="352.0" x2="538.6" y2="352.0"/>
<line x1="416.9" y1="357.2" x2="418.4" y2="357.2"/>
<line x1="540.1" y1="357.2" x2="538.6" y2="357.2"/>
<line x1="416.9" y1="362.4" x2="419.9" y2="362.4"/>
<line x1="540.1" y1="362.4" x2="537.1" y2="362.4"/>
<rect x="413.1" y="361.4" width="1.5" height="2" fill="#8a8a8a" stroke="none"/>
<line x1="416.9" y1="367.7" x2="418.4" y2="367.7"/>
<line x1="540.1" y1="367.7" x2="538.6" y2="367.7"/>
<line x1="416.9" y1="372.9" x2="418.4" y2="372.9"/>
<line x1="540.1" y1="372.9" x2="538.6" y2="372.9"/>
<line x1="416.9" y1="378.1" x2="418.4" y2="378.1"/>
<line x1="540.1" y1="378.1" x2="538.6" y2="378.1"/>
<line x1="416.9" y1="383.3" x2="418.4" y2="383.3"/>
<line x1="540.1" y1="383.3" x2="538.6" y2="383.3"/>
<line x1="416.9" y1="388.5" x2="419.9" y2="388.5"/>
<line x1="540.1" y1="388.5" x2="537.1" y2="388.5"/>
<rect x="413.1" y="387.5" width="1.5" height="2" fill="#8a8a8a" stroke="none"/>
<line x1="416.9" y1="393.7" x2="418.4" y2="393.7"/>
<line x1="540.1" y1="393.7" x2="538.6" y2="393.7"/>
<line x1="419.0" y1="398.4" x2="419.0" y2="396.6"/>
<line x1="419.0" y1="314.3" x2="419.0" y2="316.1"/>
<line x1="436.6" y1="398.4" x2="436.6" y2="396.6"/>
<line x1="436.6" y1="314.3" x2="436.6" y2="316.1"/>
<line x1="454.1" y1="398.4" x2="454.1" y2="396.6"/>
<line x1="454.1" y1="314.3" x2="454.1" y2="316.1"/>
<line x1="471.6" y1="398.4" x2="471.6" y2="396.6"/>
<line x1="471.6" y1="314.3" x2="471.6" y2="316.1"/>
<line x1="489.2" y1="398.4" x2="489.2" y2="396.6"/>
<line x1="489.2" y1="314.3" x2="489.2" y2="316.1"/>
<line x1="506.7" y1="398.4" x2="506.7" y2="396.6"/>
<line x1="506.7" y1="314.3" x2="506.7" y2="316.1"/>
<line x1="524.3" y1="398.4" x2="524.3" y2="396.6"/>
<line x1="524.3" y1="314.3" x2="524.3" y2="316.1"/>
<path d="M501.7,318.1 L501.7,337.5" style="stroke:#2f6ea6;stroke-width:1.1px;fill:none"/>
<path d="M499.6,333.5 L501.7,340.5 L503.8,333.5 L501.7,336.0 Z" style="fill:#2f6ea6;stroke:none"/>
<text class="si" x="488.4" y="312.9">Si II</text>
<text class="fr" transform="translate(406.4,363.3) rotate(-90)">flux</text>
<rect x="417.3" y="424.0" width="123.3" height="83.0" fill="#c8deec"/>
<path d="M417.5,459.0 L418.5,455.0 L420.9,447.6 L423.7,455.0 L426.0,452.0 L429.3,445.0 L432.5,450.0 L434.8,455.5 L437.6,463.5 L440.9,460.5 L443.6,459.5 L446.0,451.5 L448.7,444.0 L451.0,447.0 L454.7,453.5 L458.4,460.0 L462.8,466.5 L464.2,468.7 L467.9,468.5 L470.2,465.5 L473.0,463.5 L476.2,457.0 L479.0,461.0 L481.3,467.0 L484.5,470.5 L487.0,469.0 L491.0,472.4 L498.0,465.0 L502.4,468.0 L506.6,471.5 L510.7,469.7 L514.4,468.5 L516.8,471.0 L519.1,479.0 L521.3,485.5 L524.2,482.0 L526.9,474.5 L528.8,468.5 L532.0,468.5 L535.7,467.0 L540.4,470.0" fill="none" stroke="#d8434e" stroke-width="1.55" stroke-linejoin="round"/>
<path d="M417.5,460.6 L419.1,455.0 L420.9,451.3 L422.3,453.1 L423.7,459.2 L426.0,451.3 L429.3,440.6 L432.5,448.5 L434.8,454.1 L437.6,461.9 L440.9,459.6 L443.6,459.2 L446.0,450.4 L448.7,440.2 L451.0,445.3 L454.7,452.2 L458.4,457.8 L460.0,459.4 L462.8,465.5 L465.1,464.5 L467.9,469.2 L470.2,464.5 L473.0,462.7 L476.2,455.7 L479.0,459.4 L481.3,466.9 L484.5,471.9 L486.9,468.2 L491.9,470.1 L498.2,464.2 L502.4,467.9 L506.6,472.5 L508.9,469.3 L511.7,468.3 L514.4,467.4 L516.8,470.2 L519.1,478.5 L521.3,485.0 L524.2,483.0 L526.9,473.9 L528.8,467.9 L532.0,469.3 L535.7,468.8 L540.4,470.2" fill="none" stroke="#000" stroke-width="1.05" stroke-linejoin="round"/>
<rect x="417.3" y="424.0" width="123.3" height="83.0" fill="none" stroke="#111" stroke-width="1.15"/>
<line x1="417.3" y1="428.2" x2="418.8" y2="428.2"/>
<line x1="540.6" y1="428.2" x2="539.1" y2="428.2"/>
<line x1="417.3" y1="433.5" x2="418.8" y2="433.5"/>
<line x1="540.6" y1="433.5" x2="539.1" y2="433.5"/>
<line x1="417.3" y1="438.8" x2="418.8" y2="438.8"/>
<line x1="540.6" y1="438.8" x2="539.1" y2="438.8"/>
<line x1="417.3" y1="444.0" x2="420.3" y2="444.0"/>
<line x1="540.6" y1="444.0" x2="537.6" y2="444.0"/>
<rect x="413.5" y="443.0" width="1.5" height="2" fill="#8a8a8a" stroke="none"/>
<line x1="417.3" y1="449.2" x2="418.8" y2="449.2"/>
<line x1="540.6" y1="449.2" x2="539.1" y2="449.2"/>
<line x1="417.3" y1="454.5" x2="418.8" y2="454.5"/>
<line x1="540.6" y1="454.5" x2="539.1" y2="454.5"/>
<line x1="417.3" y1="459.8" x2="418.8" y2="459.8"/>
<line x1="540.6" y1="459.8" x2="539.1" y2="459.8"/>
<line x1="417.3" y1="465.0" x2="418.8" y2="465.0"/>
<line x1="540.6" y1="465.0" x2="539.1" y2="465.0"/>
<line x1="417.3" y1="470.2" x2="420.3" y2="470.2"/>
<line x1="540.6" y1="470.2" x2="537.6" y2="470.2"/>
<rect x="413.5" y="469.2" width="1.5" height="2" fill="#8a8a8a" stroke="none"/>
<line x1="417.3" y1="475.5" x2="418.8" y2="475.5"/>
<line x1="540.6" y1="475.5" x2="539.1" y2="475.5"/>
<line x1="417.3" y1="480.8" x2="418.8" y2="480.8"/>
<line x1="540.6" y1="480.8" x2="539.1" y2="480.8"/>
<line x1="417.3" y1="486.0" x2="418.8" y2="486.0"/>
<line x1="540.6" y1="486.0" x2="539.1" y2="486.0"/>
<line x1="417.3" y1="491.2" x2="418.8" y2="491.2"/>
<line x1="540.6" y1="491.2" x2="539.1" y2="491.2"/>
<line x1="417.3" y1="496.5" x2="420.3" y2="496.5"/>
<line x1="540.6" y1="496.5" x2="537.6" y2="496.5"/>
<rect x="413.5" y="495.5" width="1.5" height="2" fill="#8a8a8a" stroke="none"/>
<line x1="417.3" y1="501.8" x2="418.8" y2="501.8"/>
<line x1="540.6" y1="501.8" x2="539.1" y2="501.8"/>
<line x1="419.0" y1="507.0" x2="419.0" y2="505.2"/>
<line x1="419.0" y1="424.0" x2="419.0" y2="425.8"/>
<line x1="436.6" y1="507.0" x2="436.6" y2="505.2"/>
<line x1="436.6" y1="424.0" x2="436.6" y2="425.8"/>
<line x1="454.1" y1="507.0" x2="454.1" y2="505.2"/>
<line x1="454.1" y1="424.0" x2="454.1" y2="425.8"/>
<line x1="471.6" y1="507.0" x2="471.6" y2="505.2"/>
<line x1="471.6" y1="424.0" x2="471.6" y2="425.8"/>
<line x1="489.2" y1="507.0" x2="489.2" y2="505.2"/>
<line x1="489.2" y1="424.0" x2="489.2" y2="425.8"/>
<line x1="506.7" y1="507.0" x2="506.7" y2="505.2"/>
<line x1="506.7" y1="424.0" x2="506.7" y2="425.8"/>
<line x1="524.3" y1="507.0" x2="524.3" y2="505.2"/>
<line x1="524.3" y1="424.0" x2="524.3" y2="425.8"/>
<path d="M522.2,427.0 L522.2,446.5" style="stroke:#2f6ea6;stroke-width:1.1px;fill:none"/>
<path d="M520.1,442.5 L522.2,449.5 L524.3,442.5 L522.2,445.0 Z" style="fill:#2f6ea6;stroke:none"/>
<text class="si" x="508.2" y="422.3">Si II</text>
<text class="fr" transform="translate(406.4,469.3) rotate(-90)">flux</text>
<text class="ax" x="236.5" y="524.5" text-anchor="middle">-50</text>
<text class="ax" x="270.7" y="524.5" text-anchor="middle">0</text>
<text class="ax" x="304.2" y="524.5" text-anchor="middle">50</text>
<text class="ax" x="340.8" y="524.5" text-anchor="middle">100</text>
<text class="ax" x="371.5" y="524.5" text-anchor="middle">150</text>
<text class="ax" x="304.5" y="537" text-anchor="middle">day</text>
<text class="ax" x="419.2" y="517.5" text-anchor="middle">1.0</text>
<text class="ax" x="454.3" y="517.5" text-anchor="middle">1.2</text>
<text class="ax" x="489.3" y="517.5" text-anchor="middle">1.4</text>
<text class="ax" x="524.3" y="517.5" text-anchor="middle">1.6</text>
<text class="ax" x="486.2" y="530.8" text-anchor="middle" style="font-size:10.9px">wavelength (microns)</text>
</svg>
</body></html>
